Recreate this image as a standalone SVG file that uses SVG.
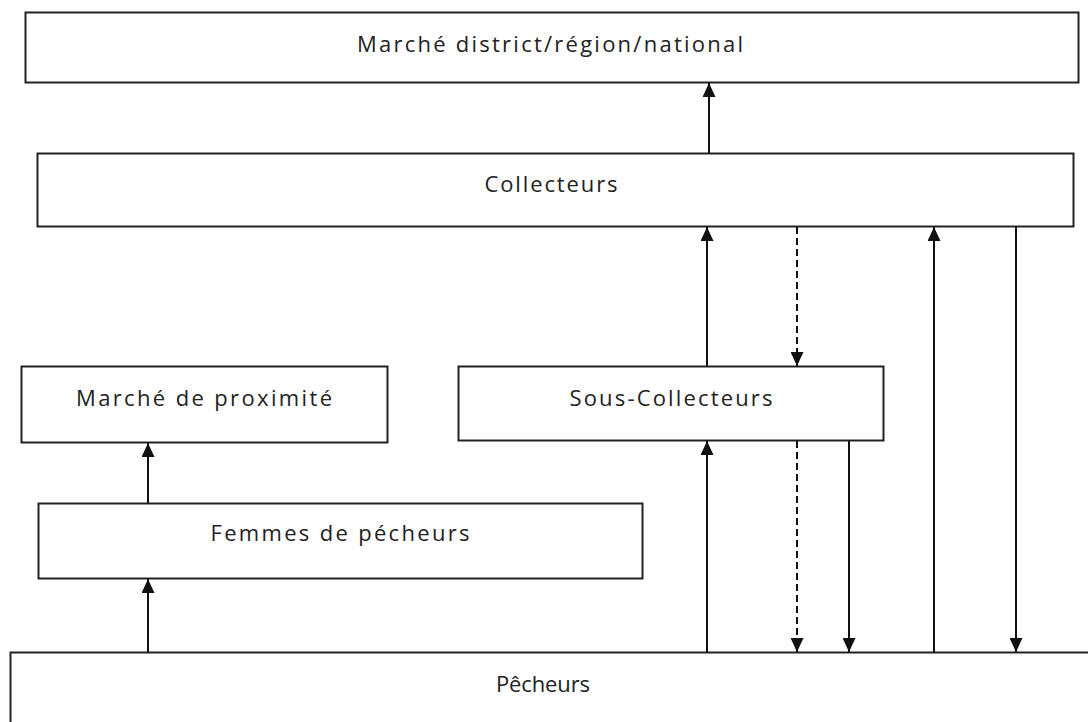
<svg xmlns="http://www.w3.org/2000/svg" width="1088" height="722" viewBox="0 0 1088 722">
<defs>
<style>
.box{fill:#fff;stroke:#222;stroke-width:2}
.lbl{font-family:"Open Sans","Liberation Sans",sans-serif;font-size:22px;fill:#222;text-anchor:middle}
.c{stroke:#111;stroke-width:2;fill:none}
.d{stroke-dasharray:7 4}
</style>
<marker id="ah" viewBox="0 0 14 13" refX="14" refY="6.5" markerWidth="14" markerHeight="13" markerUnits="userSpaceOnUse" orient="auto">
<path d="M0,0 L14,6.5 L0,13 z" fill="#111"/>
</marker>
</defs>
<rect width="1088" height="722" fill="#fff"/>
<g id="marche-national"><rect class="box" x="25.5" y="12.5" width="1053" height="70"/><text class="lbl" x="550" y="52" textLength="386" lengthAdjust="spacing">Marché district/région/national</text></g>
<g id="collecteurs"><rect class="box" x="37.5" y="153.5" width="1036" height="73"/><text class="lbl" x="551" y="192" textLength="133" lengthAdjust="spacing">Collecteurs</text></g>
<g id="marche-proximite"><rect class="box" x="21.5" y="366.5" width="366" height="76"/><text class="lbl" x="204" y="406" textLength="256" lengthAdjust="spacing">Marché de proximité</text></g>
<g id="sous-collecteurs"><rect class="box" x="458.5" y="366.5" width="425" height="74"/><text class="lbl" x="671" y="406" textLength="203" lengthAdjust="spacing">Sous-Collecteurs</text></g>
<g id="femmes"><rect class="box" x="38.5" y="503.5" width="604" height="75"/><text class="lbl" x="340" y="541" textLength="259" lengthAdjust="spacing">Femmes de pécheurs</text></g>
<g id="pecheurs"><rect class="box" x="10.5" y="652.5" width="1090" height="80"/><text class="lbl" x="543" y="692" textLength="94" lengthAdjust="spacing">Pêcheurs</text></g>
<g id="connectors">
<line class="c" x1="709" y1="153" x2="709" y2="83" marker-end="url(#ah)"/>
<line class="c" x1="707" y1="366" x2="707" y2="227" marker-end="url(#ah)"/>
<line class="c d" x1="797" y1="227" x2="797" y2="366" marker-end="url(#ah)"/>
<line class="c" x1="934" y1="652" x2="934" y2="227" marker-end="url(#ah)"/>
<line class="c" x1="1016" y1="227" x2="1016" y2="652" marker-end="url(#ah)"/>
<line class="c" x1="707" y1="652" x2="707" y2="441" marker-end="url(#ah)"/>
<line class="c d" x1="797" y1="441" x2="797" y2="652" marker-end="url(#ah)"/>
<line class="c" x1="849" y1="441" x2="849" y2="652" marker-end="url(#ah)"/>
<line class="c" x1="148" y1="503" x2="148" y2="443" marker-end="url(#ah)"/>
<line class="c" x1="148" y1="652" x2="148" y2="579" marker-end="url(#ah)"/>
</g>
</svg>
